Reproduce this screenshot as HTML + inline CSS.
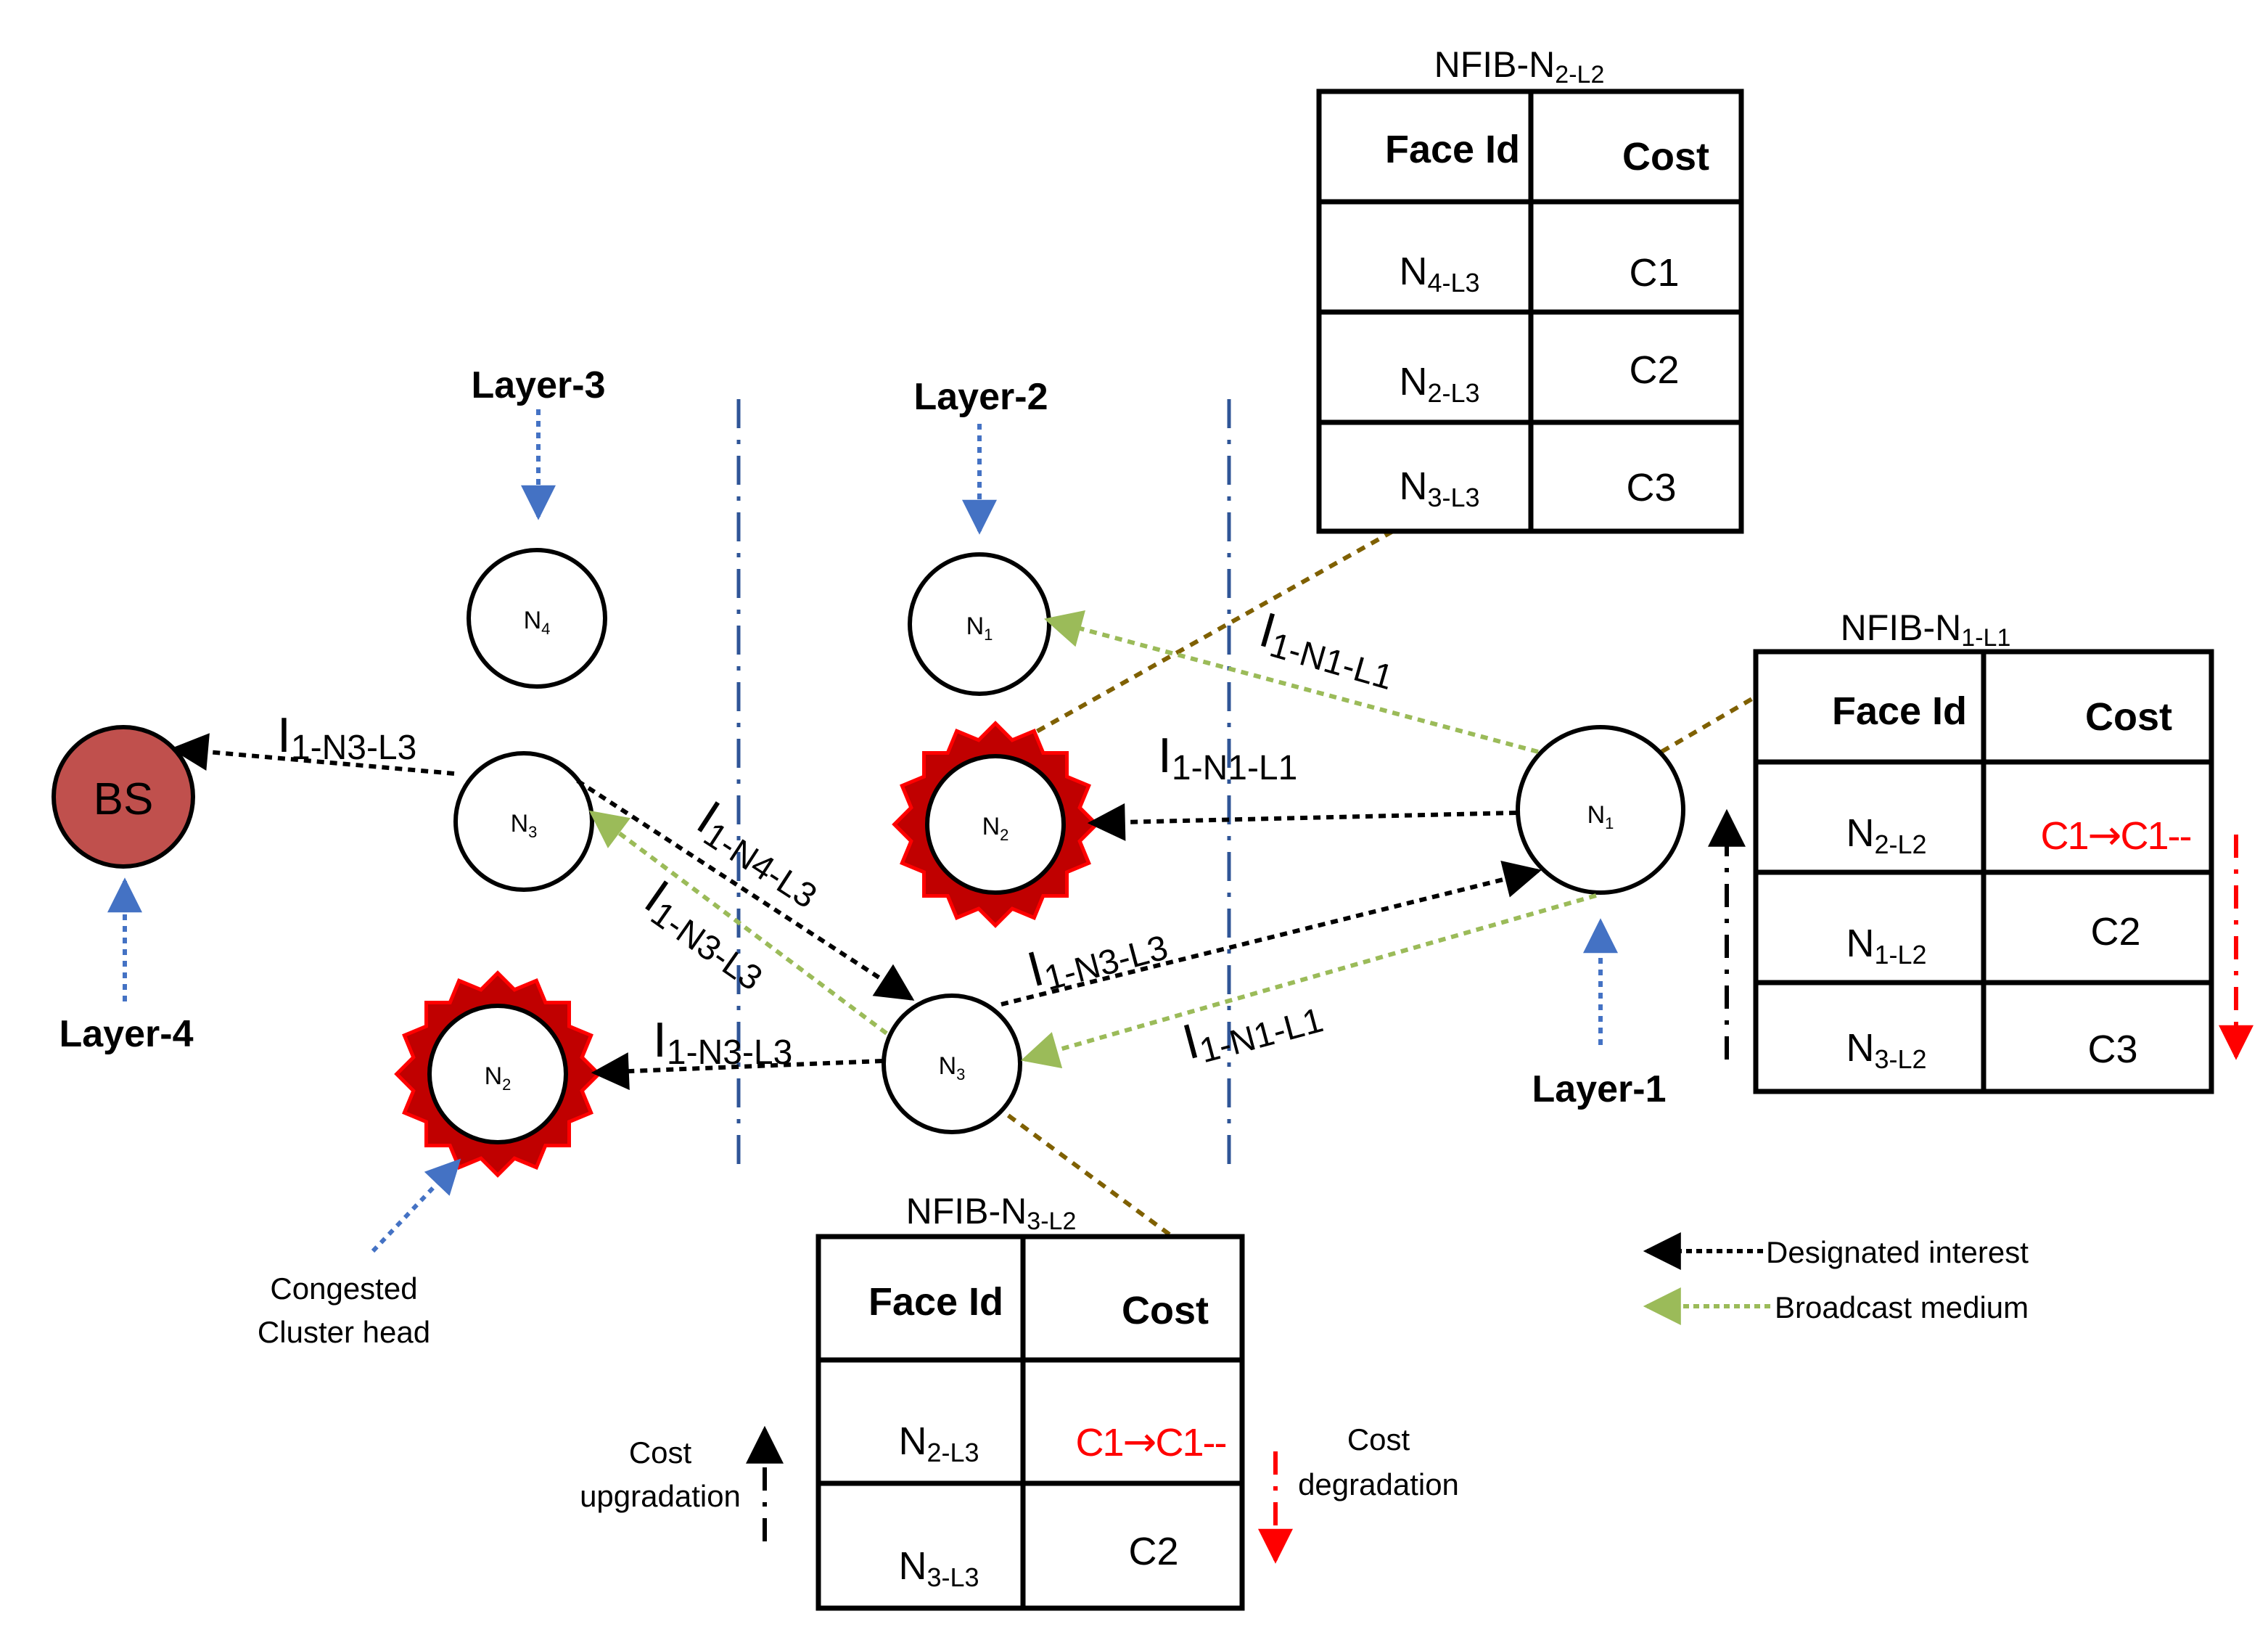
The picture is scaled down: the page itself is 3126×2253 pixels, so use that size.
<!DOCTYPE html>
<html><head><meta charset="utf-8"><style>html,body{margin:0;padding:0;background:#fff}svg{display:block}text{font-family:"Liberation Sans",sans-serif}</style></head>
<body>
<svg width="3126" height="2253" viewBox="0 0 1563 1126.5" xmlns="http://www.w3.org/2000/svg">
<defs>
<marker id="abk" viewBox="0 0 10 10" refX="9" refY="5" markerWidth="34" markerHeight="26" markerUnits="userSpaceOnUse" orient="auto"><path d="M0,0L10,5L0,10z" fill="#000"/></marker>
<marker id="agr" viewBox="0 0 10 10" refX="9" refY="5" markerWidth="34" markerHeight="26" markerUnits="userSpaceOnUse" orient="auto"><path d="M0,0L10,5L0,10z" fill="#9bbb59"/></marker>
<marker id="abl" viewBox="0 0 10 10" refX="9" refY="5" markerWidth="28" markerHeight="24" markerUnits="userSpaceOnUse" orient="auto"><path d="M0,0L10,5L0,10z" fill="#4472c4"/></marker>
<marker id="ard" viewBox="0 0 10 10" refX="9" refY="5" markerWidth="34" markerHeight="24" markerUnits="userSpaceOnUse" orient="auto"><path d="M0,0L10,5L0,10z" fill="#f00"/></marker>
<g id="star">
<g fill="#c00000" stroke="#f00" stroke-width="5">
<rect x="-48" y="-48" width="96" height="96"/>
<rect x="-48" y="-48" width="96" height="96" transform="rotate(22.5)"/>
<rect x="-48" y="-48" width="96" height="96" transform="rotate(45)"/>
<rect x="-48" y="-48" width="96" height="96" transform="rotate(67.5)"/>
</g>
<g fill="#c00000">
<rect x="-48" y="-48" width="96" height="96"/>
<rect x="-48" y="-48" width="96" height="96" transform="rotate(22.5)"/>
<rect x="-48" y="-48" width="96" height="96" transform="rotate(45)"/>
<rect x="-48" y="-48" width="96" height="96" transform="rotate(67.5)"/>
</g>
</g>
</defs>

<g stroke="#2f5597" stroke-width="2.5" stroke-dasharray="20,8,3,8">
<line x1="509" y1="275" x2="509" y2="802"/>
<line x1="847" y1="275" x2="847" y2="802"/>
</g>

<g stroke="#7f6000" stroke-width="3" stroke-dasharray="6,5">
<line x1="686" y1="520" x2="960" y2="366"/>
<line x1="1145" y1="518" x2="1210" y2="480"/>
<line x1="686" y1="762" x2="808" y2="852"/>
</g>

<use href="#star" x="686" y="568"/>
<use href="#star" x="343" y="740"/>

<g fill="#fff" stroke="#000" stroke-width="3">
<circle cx="370" cy="426" r="47"/>
<circle cx="361" cy="566" r="47"/>
<circle cx="343" cy="740" r="47"/>
<circle cx="675" cy="430" r="48"/>
<circle cx="686" cy="568" r="47"/>
<circle cx="656" cy="733" r="47"/>
<circle cx="1103" cy="558" r="57"/>
</g>
<circle cx="85" cy="549" r="48" fill="#c0504d" stroke="#000" stroke-width="3"/>
<text x="85" y="561" font-size="31" text-anchor="middle">BS</text>
<g font-size="17" text-anchor="middle">
<text x="370" y="433">N<tspan font-size="11" dy="4">4</tspan></text>
<text x="361" y="573">N<tspan font-size="11" dy="4">3</tspan></text>
<text x="343" y="747">N<tspan font-size="11" dy="4">2</tspan></text>
<text x="675" y="437">N<tspan font-size="11" dy="4">1</tspan></text>
<text x="686" y="575">N<tspan font-size="11" dy="4">2</tspan></text>
<text x="656" y="740">N<tspan font-size="11" dy="4">3</tspan></text>
<text x="1103" y="567">N<tspan font-size="11" dy="4">1</tspan></text>
</g>

<g stroke="#000" stroke-width="3" stroke-dasharray="5,4" fill="none">
<line x1="313" y1="533" x2="120" y2="516" marker-end="url(#abk)"/>
<line x1="398" y1="538" x2="628" y2="688" marker-end="url(#abk)"/>
<line x1="608" y1="731" x2="410" y2="739" marker-end="url(#abk)"/>
<line x1="690" y1="692" x2="1060" y2="600" marker-end="url(#abk)"/>
<line x1="1045" y1="560" x2="752" y2="567" marker-end="url(#abk)"/>
</g>
<g stroke="#9bbb59" stroke-width="3" stroke-dasharray="5,4" fill="none">
<line x1="611" y1="712" x2="408" y2="560" marker-end="url(#agr)"/>
<line x1="1100" y1="617" x2="706" y2="730" marker-end="url(#agr)"/>
<line x1="1060" y1="518" x2="722" y2="427" marker-end="url(#agr)"/>
</g>

<g font-size="34">
<text x="191" y="518">I<tspan font-size="24" dy="5">1-N3-L3</tspan></text>
<text x="450" y="728">I<tspan font-size="24" dy="5">1-N3-L3</tspan></text>
<text x="798" y="532">I<tspan font-size="24" dy="5">1-N1-L1</tspan></text>
<text transform="translate(478,570) rotate(33)">I<tspan font-size="24" dy="5">1-N4-L3</tspan></text>
<text transform="translate(442,624) rotate(35)">I<tspan font-size="24" dy="5">1-N3-L3</tspan></text>
<text transform="translate(866,444) rotate(16)">I<tspan font-size="24" dy="5">1-N1-L1</tspan></text>
<text transform="translate(712,680) rotate(-15)">I<tspan font-size="24" dy="5">1-N3-L3</tspan></text>
<text transform="translate(819,730) rotate(-15)">I<tspan font-size="24" dy="5">1-N1-L1</tspan></text>
</g>

<g font-size="26" font-weight="bold" text-anchor="middle">
<text x="371" y="274">Layer-3</text>
<text x="676" y="282">Layer-2</text>
<text x="87" y="721">Layer-4</text>
<text x="1102" y="759">Layer-1</text>
</g>
<g stroke="#4472c4" stroke-width="3" stroke-dasharray="4,4" fill="none">
<line x1="371" y1="282" x2="371" y2="356" marker-end="url(#abl)"/>
<line x1="675" y1="292" x2="675" y2="366" marker-end="url(#abl)"/>
<line x1="86" y1="690" x2="86" y2="607" marker-end="url(#abl)"/>
<line x1="1103" y1="720" x2="1103" y2="635" marker-end="url(#abl)"/>
<line x1="257" y1="862" x2="316" y2="800" marker-end="url(#abl)"/>
</g>
<g font-size="21" text-anchor="middle">
<text x="237" y="895">Congested</text>
<text x="237" y="925">Cluster head</text>
</g>

<g fill="none" stroke="#000" stroke-width="3.5">
<rect x="909" y="63" width="291" height="303"/>
<line x1="1055" y1="63" x2="1055" y2="366"/>
<line x1="909" y1="139" x2="1200" y2="139"/>
<line x1="909" y1="215" x2="1200" y2="215"/>
<line x1="909" y1="291" x2="1200" y2="291"/>
<rect x="1210" y="449" width="314" height="303"/>
<line x1="1367" y1="449" x2="1367" y2="752"/>
<line x1="1210" y1="525" x2="1524" y2="525"/>
<line x1="1210" y1="601" x2="1524" y2="601"/>
<line x1="1210" y1="677" x2="1524" y2="677"/>
<rect x="564" y="852" width="292" height="256"/>
<line x1="705" y1="852" x2="705" y2="1108"/>
<line x1="564" y1="937" x2="856" y2="937"/>
<line x1="564" y1="1022" x2="856" y2="1022"/>
</g>
<g font-size="25">
<text x="1047" y="53" text-anchor="middle">NFIB-N<tspan font-size="17" dy="4">2-L2</tspan></text>
<text x="1327" y="441" text-anchor="middle">NFIB-N<tspan font-size="17" dy="4">1-L1</tspan></text>
<text x="683" y="843" text-anchor="middle">NFIB-N<tspan font-size="17" dy="4">3-L2</tspan></text>
</g>
<g font-size="27" font-weight="bold" text-anchor="middle">
<text x="1001" y="112">Face Id</text>
<text x="1148" y="117">Cost</text>
<text x="1309" y="499">Face Id</text>
<text x="1467" y="503">Cost</text>
<text x="645" y="906">Face Id</text>
<text x="803" y="912">Cost</text>
</g>
<g font-size="27" text-anchor="middle">
<text x="992" y="196">N<tspan font-size="18" dy="5">4-L3</tspan></text>
<text x="1140" y="197">C1</text>
<text x="992" y="272">N<tspan font-size="18" dy="5">2-L3</tspan></text>
<text x="1140" y="264">C2</text>
<text x="992" y="344">N<tspan font-size="18" dy="5">3-L3</tspan></text>
<text x="1138" y="345">C3</text>
<text x="1300" y="583">N<tspan font-size="18" dy="5">2-L2</tspan></text>
<text x="1458" y="585" fill="#f00" letter-spacing="-1">C1<tspan font-family="DejaVu Sans" font-size="28">→</tspan>C1--</text>
<text x="1300" y="659">N<tspan font-size="18" dy="5">1-L2</tspan></text>
<text x="1458" y="651">C2</text>
<text x="1300" y="731">N<tspan font-size="18" dy="5">3-L2</tspan></text>
<text x="1456" y="732">C3</text>
<text x="647" y="1002">N<tspan font-size="18" dy="5">2-L3</tspan></text>
<text x="793" y="1003" fill="#f00" letter-spacing="-1">C1<tspan font-family="DejaVu Sans" font-size="28">→</tspan>C1--</text>
<text x="647" y="1088">N<tspan font-size="18" dy="5">3-L3</tspan></text>
<text x="795" y="1078">C2</text>
</g>

<g stroke-width="3" stroke-dasharray="16,8,3,8" fill="none">
<line x1="1190" y1="730" x2="1190" y2="560" stroke="#000" marker-end="url(#abk)"/>
<line x1="1541" y1="575" x2="1541" y2="728" stroke="#f00" marker-end="url(#ard)"/>
<line x1="527" y1="1062" x2="527" y2="985" stroke="#000" marker-end="url(#abk)"/>
<line x1="879" y1="1000" x2="879" y2="1075" stroke="#f00" marker-end="url(#ard)"/>
</g>
<g font-size="21" text-anchor="middle">
<text x="455" y="1008">Cost</text>
<text x="455" y="1038">upgradation</text>
<text x="950" y="999">Cost</text>
<text x="950" y="1030">degradation</text>
</g>

<g stroke-width="3" stroke-dasharray="4,3" fill="none">
<line x1="1215" y1="862" x2="1135" y2="862" stroke="#000" marker-end="url(#abk)"/>
<line x1="1220" y1="900" x2="1135" y2="900" stroke="#9bbb59" marker-end="url(#agr)"/>
</g>
<g font-size="21">
<text x="1217" y="870">Designated interest</text>
<text x="1223" y="908">Broadcast medium</text>
</g>
</svg>
</body></html>
